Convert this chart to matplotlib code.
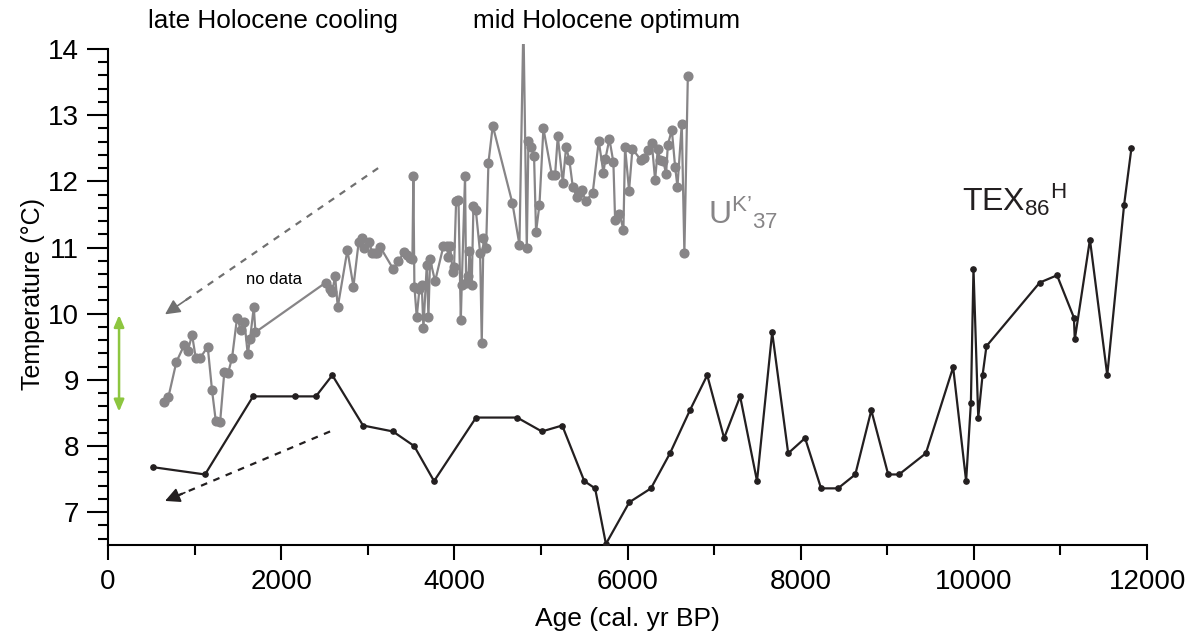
import matplotlib.pyplot as plt
from matplotlib.ticker import MultipleLocator

plt.rcParams['font.family'] = ['Liberation Sans', 'DejaVu Sans']
plt.rcParams['mathtext.fontset'] = 'custom'
plt.rcParams['mathtext.rm'] = 'Liberation Sans'
plt.rcParams['mathtext.it'] = 'Liberation Sans'

# UK'37 record (age cal. yr BP, temperature degC)
uk_age = [650, 697, 789, 881, 920, 970, 1013, 1063, 1151, 1201, 1244, 1294,
          1343, 1386, 1432, 1490, 1532, 1575, 1613, 1640, 1683, 1702,
          2514, 2564, 2590, 2622, 2653, 2764, 2834, 2895, 2930, 2960, 3018,
          3050, 3080, 3105, 3142, 3296, 3353, 3419, 3453, 3488, 3515, 3526,
          3538, 3565, 3596, 3623, 3642, 3681, 3700, 3719, 3777, 3873, 3912,
          3930, 3950, 3981, 3996, 4020, 4047, 4074, 4085, 4123, 4135, 4162,
          4174, 4200, 4220, 4247, 4297, 4316, 4335, 4366, 4393, 4443, 4670,
          4751, 4797, 4836, 4855, 4885, 4920, 4943, 4982, 5028, 5125, 5163,
          5194, 5252, 5290, 5328, 5367, 5413, 5440, 5471, 5517, 5598, 5667,
          5721, 5744, 5790, 5836, 5856, 5906, 5952, 5971, 6017, 6056, 6156,
          6194, 6233, 6280, 6318, 6349, 6376, 6414, 6445, 6465, 6511, 6549,
          6576, 6626, 6656, 6696]
uk_temp = [8.67, 8.74, 9.27, 9.53, 9.43, 9.68, 9.33, 9.33, 9.50, 8.84, 8.38, 8.36,
           9.12, 9.10, 9.33, 9.94, 9.76, 9.88, 9.39, 9.62, 10.10, 9.72,
           10.47, 10.38, 10.33, 10.57, 10.10, 10.96, 10.41, 11.09, 11.14, 10.99, 11.08,
           10.92, 10.92, 10.92, 11.01, 10.67, 10.79, 10.93, 10.89, 10.84, 10.82, 12.08,
           10.41, 9.95, 10.37, 10.44, 9.78, 10.74, 9.95, 10.82, 10.49, 11.02, 11.02,
           10.86, 11.02, 10.63, 10.70, 11.71, 11.72, 9.91, 10.44, 12.08, 10.47, 10.57,
           10.94, 10.44, 11.63, 11.57, 10.92, 9.56, 11.14, 10.99, 12.28, 12.84, 11.67,
           11.04, 14.4, 10.99, 12.61, 12.52, 12.38, 11.24, 11.64, 12.80, 12.10, 12.10,
           12.68, 11.98, 12.52, 12.32, 11.92, 11.77, 11.82, 11.87, 11.70, 11.83, 12.61,
           12.13, 12.34, 12.64, 12.29, 11.42, 11.51, 11.27, 12.52, 11.86, 12.49, 12.32,
           12.35, 12.48, 12.58, 12.02, 12.49, 12.33, 12.30, 12.11, 12.55, 12.78, 12.22,
           11.92, 12.87, 10.92, 13.59]

# TEX86H record
tex_age = [520, 1120, 1675, 2160, 2400, 2590, 2945, 3290, 3535, 3765, 4250, 4725,
           5010, 5245, 5500, 5625, 5750, 6020, 6270, 6490, 6720, 6920, 7115, 7300,
           7495, 7670, 7855, 8050, 8235, 8430, 8630, 8815, 9010, 9135, 9445, 9760,
           9910, 9965, 9995, 10050, 10100, 10145, 10760, 10960, 11155, 11165, 11340,
           11540, 11735, 11820]
tex_temp = [7.68, 7.57, 8.75, 8.75, 8.75, 9.07, 8.31, 8.22, 8.00, 7.47, 8.43, 8.43,
            8.22, 8.31, 7.47, 7.36, 6.52, 7.15, 7.36, 7.89, 8.54, 9.07, 8.12, 8.75,
            7.47, 9.72, 7.89, 8.12, 7.36, 7.36, 7.57, 8.54, 7.57, 7.57, 7.89, 9.19,
            7.47, 8.65, 10.68, 8.43, 9.07, 9.51, 10.47, 10.58, 9.94, 9.61, 11.12,
            9.07, 11.65, 12.51]

gray = '#878587'
black = '#231f20'
green = '#8dc63f'

fig = plt.figure(figsize=(11.98, 6.43), dpi=100)
ax = fig.add_axes([0.0902, 0.152, 0.8673, 0.780])

ax.plot(uk_age, uk_temp, '-o', color=gray, lw=1.6, ms=6.3, mfc=gray, mec=gray, zorder=3)
ax.plot(tex_age, tex_temp, '-o', color=black, lw=1.6, ms=3.8, zorder=4)

ax.set_xlim(0, 12000)
ax.set_ylim(6.5, 14.08)
ax.spines['top'].set_visible(False)
ax.spines['right'].set_visible(False)
ax.spines['left'].set_bounds(6.5, 14)
ax.spines['left'].set_linewidth(1.5)
ax.spines['bottom'].set_linewidth(1.5)

ax.set_yticks(range(7, 15))
ax.yaxis.set_minor_locator(MultipleLocator(0.2))
ax.xaxis.set_major_locator(MultipleLocator(2000))
ax.xaxis.set_minor_locator(MultipleLocator(1000))
ax.tick_params(axis='y', which='major', length=15, width=1.5, labelsize=20, pad=6)
ax.tick_params(axis='y', which='minor', length=7, width=1.5)
ax.tick_params(axis='x', which='major', length=11, width=1.5, labelsize=20, pad=6)
ax.tick_params(axis='x', which='minor', length=7, width=1.5)

ax.set_xlabel('Age (cal. yr BP)', fontsize=19, labelpad=9)
ax.set_ylabel('Temperature (°C)', fontsize=18, labelpad=2)

# annotations
ax.text(462, 14.42, 'late Holocene cooling', fontsize=18.8, ha='left', va='center',
        clip_on=False)
ax.text(4220, 14.42, 'mid Holocene optimum', fontsize=18.8, ha='left', va='center',
        clip_on=False)
ax.text(1594, 10.52, 'no data', fontsize=12, ha='left', va='center')
ax.text(6930, 11.52, "U$^{\\mathrm{K\u2019}}$$_{\\mathrm{37}}$", fontsize=23, color=gray,
        ha='left', va='center')
ax.text(9860, 11.72, r"TEX$_{\mathrm{86}}$$^{\mathrm{H}}$", fontsize=23, color=black,
        ha='left', va='center')

# trend arrows
gray_arrow = [(3119, 12.2), (658, 9.99)]
black_arrow = [(2564, 8.22), (658, 7.17)]
for (x0, y0), (x1, y1), c in [(*gray_arrow, '#707070'), (*black_arrow, black)]:
    ax.plot([x0, x1 + 0.08 * (x0 - x1)], [y0, y1 + 0.08 * (y0 - y1)], '--',
            color=c, lw=1.6, dashes=(3, 3))
    ax.annotate('', xy=(x1, y1), xytext=(x1 + 0.12 * (x0 - x1), y1 + 0.12 * (y0 - y1)),
                arrowprops=dict(arrowstyle='-|>,head_length=0.9,head_width=0.45',
                                color=c, lw=1.2, shrinkA=0, shrinkB=0))

# green range arrow
ax.annotate('', xy=(127, 9.98), xytext=(127, 8.52),
            arrowprops=dict(arrowstyle='<|-|>,head_length=0.7,head_width=0.3',
                            color=green, lw=1.8, shrinkA=0, shrinkB=0))

fig.savefig('out.png', dpi=100)
